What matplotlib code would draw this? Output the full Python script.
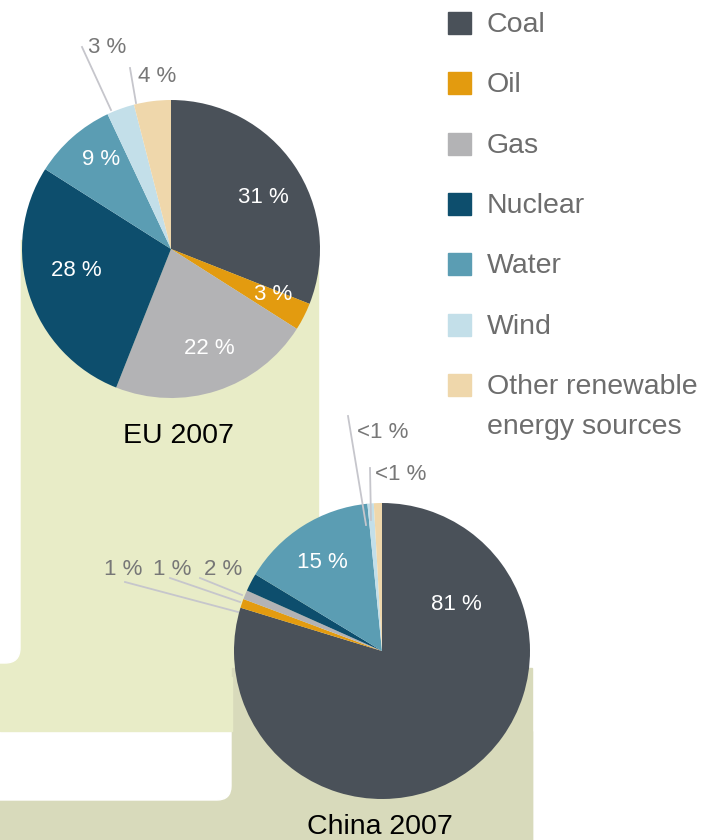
import matplotlib
matplotlib.use('Agg')
import matplotlib.pyplot as plt
from matplotlib.patches import Rectangle, FancyBboxPatch

plt.rcParams['font.family'] = ['Liberation Sans', 'DejaVu Sans']

# data
sources = ['Coal', 'Oil', 'Gas', 'Nuclear', 'Water', 'Wind', 'Other renewable\nenergy sources']
colors = ['#4a5159', '#e39b0f', '#b3b3b5', '#0d4e6d', '#5b9db3', '#c3dfe9', '#efd7ab']

eu_share = [31, 3, 22, 28, 9, 3, 4]
eu_labels = ['31 %', '3 %', '22 %', '28 %', '9 %', '3 %', '4 %']

china_share = [81, 1, 1, 2, 15, 0.7, 0.9]
china_labels = ['81 %', '1 %', '1 %', '2 %', '15 %', '<1 %', '<1 %']

W, H = 721, 840
GREEN = '#e8ecc7'
KHAKI = '#d8dabb'
LABEL_GRAY = '#777777'
LINE_GRAY = '#c6c6cc'
LEGEND_GRAY = '#6d6d6d'

fig = plt.figure(figsize=(W / 100, H / 100), dpi=100)
ax = fig.add_axes([0, 0, 1, 1])

# background shapes (image pixel coords, y downwards)
ax.add_patch(Rectangle((0, 240), 318, 491, color=GREEN, zorder=0))
ax.add_patch(Rectangle((232, 668), 300, 180, color=KHAKI, zorder=0.1))
ax.add_patch(Rectangle((0, 731), 532, 120, color=KHAKI, zorder=0.1))
ax.add_patch(FancyBboxPatch((-60, 690), 291, 110, boxstyle='round,pad=0,rounding_size=14',
                            color='white', zorder=0.2))
ax.add_patch(Rectangle((0, 677), 232, 54, color=GREEN, zorder=0.3))
ax.add_patch(FancyBboxPatch((-60, -60), 80, 723, boxstyle='round,pad=0,rounding_size=15',
                            color='white', zorder=0.4))

# pies: y axis is inverted, so counterclock in data = clockwise on screen
eu_center, eu_r = (171, 249), 149
cn_center, cn_r = (382, 651), 148
ax.pie(eu_share, colors=colors, center=eu_center, radius=eu_r, startangle=-90,
       counterclock=True, wedgeprops=dict(linewidth=0))
ax.pie(china_share, colors=colors, center=cn_center, radius=cn_r, startangle=-90,
       counterclock=True, wedgeprops=dict(linewidth=0))

# label positions (x centre, baseline) and colour
eu_pos = [(263, 203), (273, 300), (209, 354), (76, 276), (101, 165), (107, 53), (157, 82)]
eu_col = ['white'] * 5 + [LABEL_GRAY] * 2
cn_pos = [(456, 610), (123, 575), (172, 575), (223, 575), (322, 568), (383, 438), (401, 480)]
cn_col = ['white', LABEL_GRAY, LABEL_GRAY, LABEL_GRAY, 'white', LABEL_GRAY, LABEL_GRAY]

for txt, (x, y), c in zip(eu_labels + china_labels, eu_pos + cn_pos, eu_col + cn_col):
    ax.text(x, y, txt, color=c, fontsize=16, ha='center', va='baseline', zorder=5)

# leader lines
leaders = [
    ((82, 47), (111, 110)),
    ((130, 68), (136, 103)),
    ((125, 582), (238, 612)),
    ((170, 578), (240, 602)),
    ((200, 578), (242, 595)),
    ((348, 416), (366, 525)),
    ((370, 468), (371, 520)),
]
for (x0, y0), (x1, y1) in leaders:
    ax.plot([x0, x1], [y0, y1], color=LINE_GRAY, lw=1.3, zorder=4)

ax.text(178, 443, 'EU 2007', fontsize=20.5, color='black', ha='center', va='baseline', zorder=5)
ax.text(380, 834, 'China 2007', fontsize=20.5, color='black', ha='center', va='baseline', zorder=5)

# legend
for i, (name, c) in enumerate(zip(sources, colors)):
    base = 32 + i * 60.3
    ax.add_patch(Rectangle((448, base - 20), 23, 22, color=c, zorder=5))
    for j, line in enumerate(name.split('\n')):
        ax.text(487, base + j * 40, line, fontsize=20.5, color=LEGEND_GRAY,
                ha='left', va='baseline', zorder=5)

ax.set_xlim(0, W)
ax.set_ylim(H, 0)
ax.set_aspect('equal')
ax.axis('off')

fig.savefig('out.png', dpi=100, facecolor='white')
